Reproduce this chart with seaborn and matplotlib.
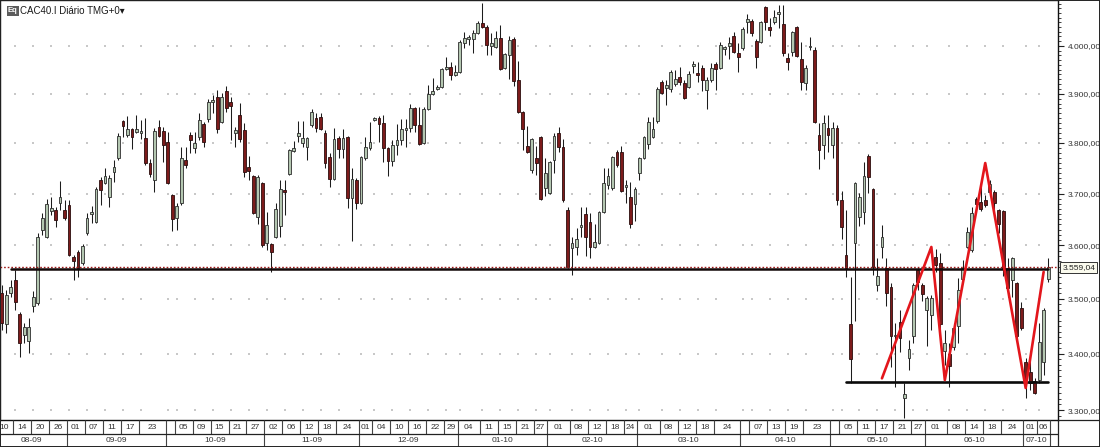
import numpy as np
import pandas as pd
import matplotlib

matplotlib.use("Agg")
import matplotlib.pyplot as plt
import matplotlib.transforms as mtransforms
from matplotlib.lines import Line2D
from matplotlib.patches import Rectangle
from matplotlib.ticker import FixedLocator, FuncFormatter, NullFormatter
import seaborn as sns


# trading calendar (Euronext), first session only carries the "10" label
HOLIDAYS = ["2009-12-25", "2010-01-01", "2010-04-02", "2010-04-05"]
SESSIONS = pd.bdate_range("2009-08-10", "2010-07-08", freq="C", holidays=HOLIDAYS)

OPENS = [
    3511, 3454, 3511, 3535, 3472, 3434, 3423, 3487, 3492, 3629,
    3616, 3666, 3668, 3682, 3668, 3678, 3578, 3587, 3567, 3624,
    3660, 3645, 3727, 3721, 3693, 3742, 3770, 3845, 3816, 3828,
    3822, 3820, 3810, 3760, 3727, 3832, 3824, 3802, 3697, 3653,
    3682, 3766, 3816, 3790, 3812, 3839, 3849, 3883, 3894, 3843,
    3906, 3883, 3820, 3857, 3826, 3752, 3735, 3655, 3721, 3604,
    3603, 3616, 3637, 3707, 3738, 3784, 3814, 3800, 3792, 3837,
    3851, 3853, 3820, 3772, 3729, 3810, 3788, 3812, 3691, 3727,
    3682, 3770, 3790, 3847, 3851, 3841, 3790, 3764, 3796, 3806,
    3826, 3830, 3871, 3837, 3800, 3869, 3900, 3910, 3914, 3952,
    3956, 3939, 3945, 4006, 4015, 4015, 4028, 4049, 4040, 4000,
    3998, 4017, 3954, 3981, 4015, 3929, 3863, 3794, 3746, 3770,
    3812, 3711, 3701, 3766, 3820, 3792, 3668, 3595, 3597, 3635,
    3660, 3645, 3597, 3604, 3664, 3717, 3711, 3782, 3782, 3713,
    3693, 3680, 3740, 3770, 3798, 3812, 3845, 3925, 3912, 3910,
    3921, 3935, 3923, 3914, 3958, 3943, 3954, 3908, 3929, 3962,
    3954, 3994, 4000, 4021, 3985, 3996, 4051, 4053, 4011, 4008,
    4083, 4040, 4051, 4068, 4047, 3975, 3987, 4040, 3973, 3923,
    3998, 3992, 3816, 3796, 3830, 3796, 3830, 3687, 3582, 3454,
    3605, 3655, 3664, 3774, 3709, 3525, 3597, 3557, 3522, 3431,
    3457, 3322, 3392, 3431, 3553, 3525, 3479, 3470, 3578, 3567,
    3404, 3399, 3412, 3450, 3537, 3597, 3591, 3689, 3684, 3687,
    3703, 3703, 3668, 3666, 3557, 3535, 3529, 3483, 3385, 3367,
    3351, 3353, 3385, 3536,
]
HIGHS = [
    3526, 3516, 3535, 3554, 3476, 3455, 3464, 3514, 3624, 3662,
    3689, 3693, 3674, 3725, 3687, 3687, 3582, 3591, 3603, 3662,
    3676, 3713, 3733, 3750, 3737, 3766, 3820, 3847, 3855, 3830,
    3857, 3847, 3851, 3768, 3830, 3847, 3832, 3822, 3699, 3682,
    3792, 3792, 3822, 3822, 3861, 3843, 3890, 3898, 3908, 3902,
    3916, 3894, 3832, 3881, 3841, 3774, 3737, 3737, 3723, 3664,
    3605, 3682, 3727, 3727, 3788, 3804, 3845, 3845, 3812, 3869,
    3861, 3861, 3826, 3780, 3830, 3814, 3828, 3814, 3750, 3731,
    3774, 3812, 3843, 3853, 3855, 3857, 3792, 3806, 3839, 3849,
    3849, 3879, 3873, 3873, 3873, 3918, 3933, 3918, 3954, 3977,
    3966, 3960, 4013, 4030, 4023, 4034, 4053, 4092, 4045, 4028,
    4032, 4045, 3985, 4021, 4019, 3968, 3865, 3835, 3810, 3794,
    3814, 3770, 3764, 3820, 3832, 3808, 3674, 3616, 3633, 3674,
    3674, 3662, 3641, 3666, 3750, 3750, 3774, 3786, 3794, 3727,
    3723, 3713, 3772, 3814, 3853, 3853, 3914, 3929, 3929, 3950,
    3950, 3956, 3929, 3947, 3968, 3966, 3960, 3935, 3964, 3966,
    4008, 4000, 4019, 4030, 4006, 4040, 4068, 4057, 4015, 4053,
    4085, 4059, 4077, 4087, 4087, 3985, 4032, 4042, 4008, 3960,
    4019, 3998, 3841, 3857, 3857, 3843, 3837, 3705, 3668, 3540,
    3723, 3701, 3762, 3778, 3711, 3576, 3639, 3576, 3529, 3455,
    3479, 3348, 3424, 3529, 3557, 3529, 3505, 3507, 3593, 3586,
    3443, 3419, 3455, 3538, 3572, 3635, 3674, 3693, 3715, 3697,
    3727, 3707, 3670, 3668, 3576, 3578, 3531, 3494, 3392, 3388,
    3356, 3455, 3483, 3576,
]
LOWS = [
    3443, 3437, 3503, 3479, 3394, 3419, 3401, 3476, 3488, 3620,
    3614, 3658, 3635, 3668, 3649, 3580, 3535, 3540, 3563, 3620,
    3643, 3643, 3678, 3719, 3674, 3723, 3766, 3812, 3812, 3788,
    3820, 3808, 3756, 3733, 3703, 3812, 3762, 3719, 3627, 3629,
    3678, 3750, 3780, 3780, 3806, 3792, 3843, 3861, 3820, 3841,
    3863, 3806, 3792, 3802, 3733, 3727, 3660, 3641, 3597, 3591,
    3550, 3614, 3616, 3658, 3737, 3782, 3802, 3792, 3766, 3832,
    3822, 3826, 3750, 3713, 3727, 3770, 3770, 3672, 3608, 3670,
    3680, 3766, 3786, 3845, 3802, 3762, 3735, 3754, 3776, 3796,
    3792, 3822, 3822, 3796, 3798, 3867, 3898, 3908, 3912, 3950,
    3929, 3937, 3943, 3996, 4002, 3985, 4026, 4038, 3981, 3981,
    3996, 3950, 3952, 3931, 3916, 3861, 3786, 3780, 3741, 3737,
    3687, 3695, 3699, 3740, 3782, 3683, 3557, 3544, 3582, 3616,
    3580, 3576, 3595, 3603, 3662, 3709, 3707, 3752, 3703, 3682,
    3633, 3647, 3727, 3768, 3788, 3810, 3841, 3900, 3877, 3904,
    3916, 3918, 3890, 3912, 3943, 3925, 3906, 3869, 3925, 3908,
    3952, 3981, 3973, 3985, 3945, 3992, 4028, 4021, 3954, 4006,
    4034, 4021, 4047, 4038, 3979, 3950, 3979, 3977, 3908, 3908,
    3992, 3841, 3748, 3768, 3782, 3770, 3678, 3612, 3540, 3348,
    3460, 3637, 3641, 3701, 3544, 3514, 3576, 3486, 3376, 3341,
    3403, 3286, 3371, 3419, 3516, 3496, 3413, 3443, 3550, 3443,
    3380, 3341, 3406, 3419, 3535, 3595, 3587, 3676, 3666, 3674,
    3695, 3668, 3624, 3542, 3503, 3503, 3421, 3443, 3321, 3335,
    3328, 3348, 3362, 3531,
]
CLOSES = [
    3455, 3507, 3522, 3494, 3419, 3448, 3448, 3503, 3616, 3652,
    3680, 3672, 3649, 3693, 3653, 3582, 3570, 3557, 3599, 3652,
    3664, 3709, 3707, 3735, 3731, 3752, 3814, 3835, 3828, 3812,
    3828, 3824, 3760, 3738, 3824, 3814, 3796, 3721, 3651, 3676,
    3770, 3756, 3806, 3800, 3847, 3802, 3883, 3888, 3828, 3894,
    3871, 3875, 3826, 3808, 3742, 3744, 3662, 3733, 3601, 3639,
    3587, 3670, 3709, 3703, 3786, 3790, 3820, 3810, 3810, 3863,
    3830, 3828, 3760, 3729, 3808, 3788, 3810, 3691, 3729, 3682,
    3772, 3792, 3802, 3851, 3839, 3790, 3764, 3796, 3806, 3828,
    3830, 3871, 3837, 3798, 3869, 3900, 3906, 3914, 3952, 3956,
    3939, 3945, 4008, 4017, 4019, 4028, 4049, 4040, 4002, 4006,
    4017, 3952, 3983, 4013, 3927, 3863, 3828, 3782, 3808, 3760,
    3689, 3740, 3762, 3814, 3792, 3687, 3559, 3605, 3612, 3639,
    3616, 3597, 3606, 3664, 3721, 3735, 3772, 3756, 3705, 3717,
    3641, 3709, 3770, 3812, 3843, 3828, 3910, 3902, 3918, 3945,
    3931, 3925, 3892, 3941, 3962, 3939, 3929, 3929, 3954, 3952,
    4002, 3998, 4006, 3987, 3977, 4036, 4057, 4028, 3977, 4051,
    4051, 4034, 4062, 4072, 3985, 3966, 4030, 3979, 3925, 3954,
    4000, 3843, 3786, 3841, 3816, 3830, 3687, 3635, 3557, 3390,
    3721, 3693, 3735, 3733, 3559, 3542, 3616, 3511, 3431, 3433,
    3428, 3328, 3408, 3525, 3531, 3509, 3501, 3501, 3563, 3454,
    3420, 3378, 3446, 3516, 3557, 3626, 3662, 3680, 3670, 3678,
    3718, 3682, 3641, 3557, 3520, 3576, 3431, 3446, 3353, 3348,
    3330, 3421, 3479, 3559.04,
]
LAST_PRICE = 3559.04

# hand-drawn studies on the chart
NECKLINE_DATES = ["2009-08-13", "2010-07-08"]
NECKLINE_PRICE = 3555
SUPPORT_DATES = ["2010-05-06", "2010-07-08"]
SUPPORT_PRICE = 3349
ZIGZAG_DATES = ["2010-05-18", "2010-06-02", "2010-06-07", "2010-06-18", "2010-07-01", "2010-07-07"]
ZIGZAG_PRICES = [3356, 3597, 3353, 3760, 3339, 3550]

PRICE_LEVELS = [3300, 3400, 3500, 3600, 3700, 3800, 3900, 4000]
DAY_TICKS = [
    "2009-08-10", "2009-08-14", "2009-08-20", "2009-08-26",
    "2009-09-01", "2009-09-07", "2009-09-11", "2009-09-17", "2009-09-23",
    "2009-10-01", "2009-10-05", "2009-10-09", "2009-10-15", "2009-10-21", "2009-10-27",
    "2009-11-02", "2009-11-06", "2009-11-12", "2009-11-18", "2009-11-24",
    "2009-12-01", "2009-12-04", "2009-12-10", "2009-12-16", "2009-12-22", "2009-12-29",
    "2010-01-04", "2010-01-11", "2010-01-15", "2010-01-21", "2010-01-27",
    "2010-02-01", "2010-02-08", "2010-02-12", "2010-02-18", "2010-02-24",
    "2010-03-01", "2010-03-08", "2010-03-12", "2010-03-18", "2010-03-24",
    "2010-04-01", "2010-04-07", "2010-04-13", "2010-04-19", "2010-04-23",
    "2010-05-03", "2010-05-05", "2010-05-11", "2010-05-17", "2010-05-21", "2010-05-27",
    "2010-06-01", "2010-06-08", "2010-06-14", "2010-06-18", "2010-06-24",
    "2010-07-01", "2010-07-06",
]
HIDDEN_DAY_TICKS = ["2009-10-01", "2010-04-01", "2010-05-03"]

UP_COLOR = "#b4c7b1"
DOWN_COLOR = "#7c1b1b"
FONT = ["Liberation Sans", "DejaVu Sans"]


def price_label(value, _pos=None):
    return f"{value:,.2f}".replace(",", "X").replace(".", ",").replace("X", ".")


def positions(date_strings):
    return SESSIONS.get_indexer(pd.to_datetime(date_strings))


def draw_candles(ax, x, opens, highs, lows, closes):
    up = closes >= opens
    bottom = np.minimum(opens, closes)
    height = np.maximum(np.abs(closes - opens), 0.8)
    ax.vlines(x, lows, highs, color="#1c1c1c", linewidth=0.75, zorder=2)
    ax.bar(x[up], height[up], bottom=bottom[up], width=0.62, color=UP_COLOR,
           edgecolor="#2d2d2d", linewidth=0.6, zorder=3)
    ax.bar(x[~up], height[~up], bottom=bottom[~up], width=0.62, color=DOWN_COLOR,
           edgecolor="#2a0d0d", linewidth=0.6, zorder=3)


def draw_date_rows(ax_d, last_x):
    tick_x = positions(DAY_TICKS)
    day_edges = list(tick_x - 0.5) + [last_x + 0.5]
    ax_d.vlines(day_edges, 1, 2, color="#444444", linewidth=0.8)
    for i, date in enumerate(DAY_TICKS):
        text = "" if date in HIDDEN_DAY_TICKS else date[-2:]
        ax_d.text((day_edges[i] + day_edges[i + 1]) / 2, 1.47, text, ha="center",
                  va="center", fontsize=6, color="#333333", family=FONT, clip_on=True)

    months = SESSIONS.to_period("M")
    _, first = np.unique(np.asarray(months.astype(str)), return_index=True)
    first = np.sort(first)
    month_edges = list(first - 0.5) + [last_x + 0.5]
    ax_d.vlines(month_edges, 0, 1, color="#444444", linewidth=0.8)
    for i, start in enumerate(first):
        period = months[start]
        ax_d.text((month_edges[i] + month_edges[i + 1]) / 2, 0.47,
                  f"{period.month:02d}-{period.year % 100:02d}", ha="center", va="center",
                  fontsize=6, color="#333333", family=FONT, clip_on=True)
    ax_d.axhline(1, color="#222222", linewidth=0.9)


def main():
    sns.set_theme(style="white")
    plt.rcParams["font.family"] = FONT

    opens = np.array(OPENS, dtype=float)
    highs = np.array(HIGHS, dtype=float)
    lows = np.array(LOWS, dtype=float)
    closes = np.array(CLOSES, dtype=float)
    x = np.arange(1, len(closes) + 1)
    assert len(SESSIONS) == len(closes) + 1

    W, H = 1100, 447
    fig = plt.figure(figsize=(W / 100, H / 100), dpi=100)
    ax = fig.add_axes([0, 27 / H, 1058 / W, 420 / H])
    ax_d = fig.add_axes([0, 0, 1058 / W, 27 / H], sharex=ax)

    # dotted grid: one dot per labelled session and price level
    grid = pd.DataFrame(
        [(px, lvl) for px in positions(DAY_TICKS) for lvl in PRICE_LEVELS],
        columns=["pos", "price"],
    )
    sns.scatterplot(data=grid, x="pos", y="price", s=2, marker="s", color="#c8c8c8",
                    linewidth=0, ax=ax, legend=False, zorder=1)

    draw_candles(ax, x, opens, highs, lows, closes)

    ax.axhline(LAST_PRICE, color="#a01818", linewidth=1.0, linestyle=(0, (1.2, 1.4)), zorder=4)
    sns.lineplot(x=positions(NECKLINE_DATES), y=[NECKLINE_PRICE] * 2, color="#120808",
                 linewidth=1.8, ax=ax, zorder=5)
    sns.lineplot(x=positions(SUPPORT_DATES), y=[SUPPORT_PRICE] * 2, color="#0a0a0a",
                 linewidth=1.9, ax=ax, zorder=5)
    sns.lineplot(x=positions(ZIGZAG_DATES), y=ZIGZAG_PRICES, sort=False, color="#e3161c",
                 linewidth=1.9, ax=ax, zorder=6)

    ax.set_yscale("log")
    ax.set_ylim(3283, 4098)
    ax.set_xlim(0.62, 236.2)
    ax.yaxis.tick_right()
    ax.yaxis.set_major_locator(FixedLocator(PRICE_LEVELS))
    ax.yaxis.set_major_formatter(FuncFormatter(price_label))
    ax.yaxis.set_minor_locator(FixedLocator(np.arange(3290, 4100, 10)))
    ax.yaxis.set_minor_formatter(NullFormatter())
    ax.tick_params(axis="y", which="major", length=4, width=0.8, labelsize=6,
                   pad=3, colors="#222222", labelcolor="#333333")
    ax.tick_params(axis="y", which="minor", length=2, width=0.6, colors="#222222")
    ax.tick_params(axis="x", bottom=False, labelbottom=False)
    ax.set_xlabel("")
    ax.set_ylabel("")
    for spine in ax.spines.values():
        spine.set_color("#111111")
        spine.set_linewidth(1.0)

    tag = mtransforms.blended_transform_factory(ax.transAxes, ax.transData)
    ax.text(1.004, LAST_PRICE, price_label(LAST_PRICE), transform=tag, ha="left",
            va="center", fontsize=6, color="#222222", clip_on=False, zorder=7,
            bbox=dict(boxstyle="square,pad=0.25", facecolor="#fbfbee",
                      edgecolor="#333333", linewidth=0.7))

    ax_d.set_ylim(0, 2)
    ax_d.axis("off")
    draw_date_rows(ax_d, x[-1])

    # header
    fig.text(8 / W, 1 - 11 / H, "Eq", fontsize=5.5, color="white", va="center",
             weight="bold", bbox=dict(boxstyle="square,pad=0.18", facecolor="#5c5c5c",
                                      edgecolor="none"))
    fig.text(20 / W, 1 - 11 / H, "CAC40.I Diário TMG+0\u25be", fontsize=7,
             color="#1a1a1a", va="center")

    # frame lines of the date strip under the price scale
    fig.add_artist(Line2D([1058 / W, 1], [27 / H, 27 / H], transform=fig.transFigure,
                          color="#222222", linewidth=0.9))
    fig.add_artist(Line2D([1058 / W, 1058 / W], [0, 27 / H], transform=fig.transFigure,
                          color="#222222", linewidth=0.9))
    fig.add_artist(Rectangle((0, 0), 1, 1, transform=fig.transFigure, fill=False,
                             edgecolor="#222222", linewidth=1.4))

    fig.savefig("out.png", dpi=100)
    plt.close(fig)


if __name__ == "__main__":
    main()
